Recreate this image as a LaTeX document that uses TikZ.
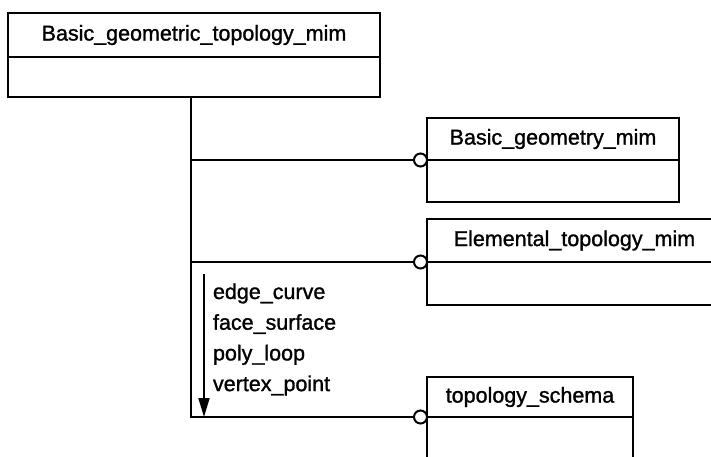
\documentclass[tikz,border=0pt]{standalone}
\usepackage{fontspec}
\newfontfamily\diagfont{Liberation Sans}[FakeBold=1.2]
\usetikzlibrary{arrows.meta, positioning}

\begin{document}
\begin{tikzpicture}[x=1pt, y=-1pt, line width=2pt,
    font=\diagfont\fontsize{21.5}{26}\selectfont,
    classhead/.style={draw, rectangle, outer sep=0pt, inner sep=0pt, minimum height=42pt, anchor=north west},
    classbody/.style={draw, rectangle, outer sep=0pt, inner sep=0pt, minimum height=42pt},
    joint/.style={draw, circle, fill=white, outer sep=0pt, inner sep=0pt, minimum size=13pt, anchor=east}]
  \useasboundingbox (0,0) rectangle (711,457);
  \clip (0,0) rectangle (711,457);
  % classes
  \node[classhead, minimum width=372pt, minimum height=44pt] (mimHead) at (8,13) {Basic\_geometric\_topology\_mim};
  \node[classbody, minimum width=372pt, minimum height=40pt, below=0pt of mimHead] (mimBody) {};
  \node[classhead, minimum width=252pt] (geomHead) at (427,118) {Basic\_geometry\_mim};
  \node[classbody, minimum width=252pt, below=0pt of geomHead] (geomBody) {};
  \node[classhead, minimum width=295pt, minimum height=43pt] (topoHead) at (427,219) {Elemental\_topology\_mim};
  \node[classbody, minimum width=295pt, minimum height=43pt, below=0pt of topoHead] (topoBody) {};
  \node[classhead, minimum width=206pt, minimum height=40pt] (schemaHead) at (427,377) {topology\_schema};
  \node[classbody, minimum width=206pt, minimum height=60pt, below=0pt of schemaHead] (schemaBody) {};
  % joints
  \node[joint] (geomJoint) at (geomHead.south west) {};
  \node[joint] (topoJoint) at (topoHead.south west) {};
  \node[joint] (schemaJoint) at (schemaHead.south west) {};
  % connectors
  \coordinate (trunk) at (191,97);
  \draw (trunk) -- (trunk |- schemaJoint) -- (schemaJoint);
  \draw (trunk |- geomJoint) -- (geomJoint);
  \draw (trunk |- topoJoint) -- (topoJoint);
  \coordinate (arrowTop) at (204,274);
  \draw[-{Triangle[length=19pt, width=11pt]}] (arrowTop) -- (arrowTop |- schemaJoint);
  % referenced entities
  \foreach \entity [count=\k] in {edge\_curve, face\_surface, poly\_loop, vertex\_point}
    \node[anchor=base west, inner sep=0pt] (entity\k) at (212, {299+(\k-1)*30.7}) {\entity};
\end{tikzpicture}
\end{document}
